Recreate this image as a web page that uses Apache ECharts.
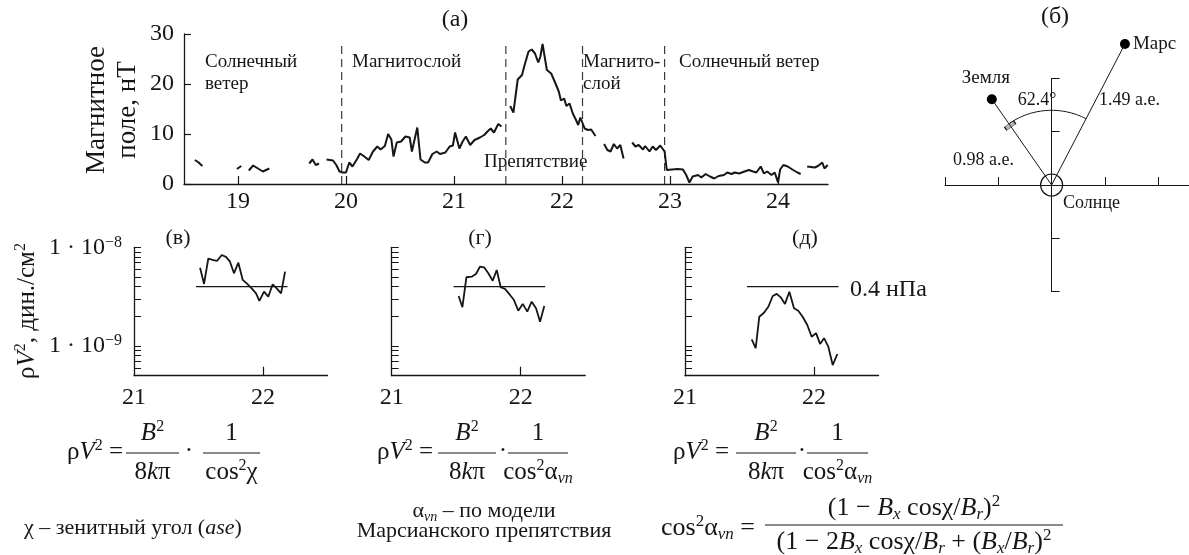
<!DOCTYPE html>
<html>
<head>
<meta charset="utf-8">
<script src="https://cdn.jsdelivr.net/npm/echarts@6/dist/echarts.min.js"></script>
<style>
  html, body { margin: 0; padding: 0; background: #fff; }
  #chart { width: 1189px; height: 555px; }
</style>
</head>
<body>
<div id="chart"></div>
<script>
const SERIF = "'Liberation Serif', 'DejaVu Serif', serif";
const INK = '#161616';

// ---- (а) magnetic field magnitude, nT, against day; telemetry gaps split the record ----
const fieldSeg1 = [[18.60, 4.8], [18.63, 4.4], [18.67, 3.6]];
const fieldSeg2 = [[18.99, 3.0], [19.03, 3.6]];
const fieldSeg3 = [[19.10, 2.7], [19.14, 3.7], [19.23, 2.5], [19.29, 3.1]];
const fieldSeg4 = [[19.66, 4.1], [19.69, 4.9], [19.72, 3.8], [19.75, 4.1]];
const fieldSeg5 = [
  [19.82, 4.9], [19.88, 4.7], [19.91, 3.8], [19.94, 2.5], [19.97, 2.3], [20.0, 2.3],
  [20.03, 4.3], [20.06, 3.5], [20.10, 4.9], [20.13, 6.1], [20.17, 5.5], [20.21, 4.8],
  [20.25, 6.5], [20.29, 7.5], [20.32, 6.9], [20.36, 7.6], [20.39, 10.0], [20.42, 8.9],
  [20.44, 5.5], [20.47, 8.3], [20.51, 8.5], [20.55, 9.5], [20.59, 9.3], [20.61, 6.5],
  [20.66, 11.3], [20.69, 4.9], [20.73, 4.3], [20.76, 4.3], [20.80, 6.0], [20.84, 6.5],
  [20.87, 6.0], [20.92, 6.3], [20.96, 7.5], [20.99, 7.7], [21.01, 10.3], [21.05, 7.1],
  [21.08, 8.5], [21.11, 9.5], [21.15, 7.8], [21.19, 8.8], [21.24, 9.3], [21.28, 9.8],
  [21.31, 10.5], [21.34, 11.1], [21.37, 10.3], [21.41, 12.0], [21.44, 11.5]
];
const fieldSeg6 = [
  [21.52, 15.6], [21.55, 14.3], [21.59, 20.9], [21.63, 21.8], [21.65, 23.5], [21.69, 26.5],
  [21.72, 26.9], [21.75, 26.1], [21.78, 24.3], [21.80, 25.5], [21.82, 28.0], [21.86, 22.8],
  [21.90, 22.1], [21.94, 20.1], [21.97, 18.5], [21.99, 16.7], [22.02, 17.1], [22.04, 15.6],
  [22.07, 16.1], [22.10, 14.1], [22.13, 12.8], [22.15, 11.8], [22.17, 13.3], [22.21, 11.1],
  [22.24, 10.8], [22.27, 10.9], [22.31, 9.6]
];
const fieldSeg7 = [[22.39, 8.0], [22.42, 6.8], [22.45, 6.5], [22.48, 8.0], [22.51, 7.1], [22.54, 7.8], [22.57, 5.1]];
const fieldSeg8 = [
  [22.65, 8.3], [22.68, 7.5], [22.71, 7.8], [22.75, 6.9], [22.77, 7.6], [22.81, 6.5],
  [22.84, 7.5], [22.87, 6.8], [22.91, 7.7], [22.95, 6.5], [22.97, 2.8], [23.02, 2.9],
  [23.07, 3.0], [23.12, 2.9], [23.15, 1.8], [23.18, 0.3], [23.21, 1.5], [23.26, 1.8],
  [23.29, 1.3], [23.33, 2.0], [23.37, 1.5], [23.41, 1.1], [23.45, 1.6], [23.50, 1.8],
  [23.53, 2.3], [23.57, 2.0], [23.60, 2.3], [23.64, 2.1], [23.69, 2.5], [23.73, 2.8],
  [23.77, 2.5], [23.80, 2.3], [23.84, 3.5], [23.87, 2.1], [23.90, 2.5], [23.94, 1.8],
  [23.97, 2.3], [24.0, 0.3], [24.02, 2.9], [24.05, 3.8], [24.09, 3.5], [24.14, 2.8],
  [24.18, 2.3], [24.21, 2.0]
];
const fieldSeg9 = [[24.27, 3.5], [24.34, 3.3], [24.37, 3.6], [24.41, 4.3], [24.43, 3.1], [24.46, 3.8]];
const fieldSegments = [fieldSeg1, fieldSeg2, fieldSeg3, fieldSeg4, fieldSeg5, fieldSeg6, fieldSeg7, fieldSeg8, fieldSeg9];

// region boundaries (bow shock / obstacle crossings), days
const boundaryDays = [19.96, 21.48, 22.19, 22.95];
const boundaryTop = 28.2;
const dayTicks = [19, 20, 21, 22, 23, 24];

// ---- (в), (г), (д) dynamic pressure estimates, dyn/cm^2 ----
const pressureZenith = [
  [21.512, 6.2e-9], [21.543, 4.25e-9], [21.576, 7.7e-9], [21.614, 7.4e-9], [21.645, 7.3e-9],
  [21.68, 8.35e-9], [21.713, 8.0e-9], [21.744, 7.15e-9], [21.775, 5.45e-9], [21.809, 6.98e-9],
  [21.843, 4.67e-9], [21.874, 4.31e-9], [21.912, 3.84e-9], [21.946, 3.42e-9], [21.972, 2.86e-9],
  [22.008, 3.55e-9], [22.041, 3.16e-9], [22.075, 4.22e-9], [22.106, 3.84e-9], [22.14, 3.42e-9],
  [22.171, 5.66e-9]
];
const pressureModel = [
  [21.519, 3.21e-9], [21.548, 2.47e-9], [21.579, 4.97e-9], [21.62, 5.04e-9], [21.653, 5.37e-9],
  [21.684, 6.36e-9], [21.716, 6.27e-9], [21.749, 5.45e-9], [21.783, 4.59e-9], [21.814, 5.89e-9],
  [21.845, 3.94e-9], [21.878, 3.79e-9], [21.917, 3.29e-9], [21.948, 2.92e-9], [21.981, 2.28e-9],
  [22.016, 2.67e-9], [22.051, 2.23e-9], [22.085, 2.81e-9], [22.119, 2.41e-9], [22.15, 1.76e-9],
  [22.183, 2.54e-9]
];
const pressureModelB = [
  [21.517, 1.17e-9], [21.548, 9.5e-10], [21.576, 1.98e-9], [21.612, 2.17e-9], [21.646, 2.5e-9],
  [21.68, 3.21e-9], [21.711, 3.37e-9], [21.742, 3.11e-9], [21.775, 2.67e-9], [21.809, 3.55e-9],
  [21.845, 2.41e-9], [21.878, 2.28e-9], [21.912, 1.98e-9], [21.948, 1.63e-9], [21.982, 1.24e-9],
  [22.016, 1.35e-9], [22.047, 1.05e-9], [22.078, 1.2e-9], [22.111, 9.84e-10], [22.145, 6.41e-10],
  [22.181, 8.3e-10]
];
const refPressure = 4e-9;          // 0.4 nPa
const refPressureLabel = '0.4 нПа';
const refSpan = [21.48, 22.19];
const pressureTicks = [5e-10, 6e-10, 7e-10, 8e-10, 9e-10, 1e-9, 2e-9, 3e-9, 4e-9, 5e-9, 6e-9, 7e-9, 8e-9, 9e-9, 1e-8];
const pressureLabels = [1e-9, 1e-8];

// ---- (б) planet geometry, a.u. and degrees ----
const marsDist = 1.49;
const earthDist = 0.98;
const earthMarsAngle = 62.4;
const marsAngle = 62.5;             // heliocentric direction of Mars in the sketch
const orbitTicks = [-1, -0.5, 0.5, 1];

// ---------------------------------------------------------------
const earthAngle = marsAngle + earthMarsAngle;
const rad = a => a * Math.PI / 180;
const polar = (r, a) => [r * Math.cos(rad(a)), r * Math.sin(rad(a))];
const earthPos = polar(earthDist, earthAngle);
const marsPos = polar(marsDist, marsAngle);
const arcRadius = 0.7;
const arcPts = [];
for (let a = marsAngle; a <= earthAngle + 1e-9; a += 1) arcPts.push(polar(arcRadius, a));

const axisLine = { lineStyle: { color: INK, width: 1.3 } };
const tickFont = { fontSize: 24, fontFamily: SERIF, color: INK };

function lineSeries(idx, data, width, extra) {
  return Object.assign({
    type: 'line', xAxisIndex: idx, yAxisIndex: idx, data: data,
    symbol: 'none', showSymbol: false, silent: true, animation: false,
    lineStyle: { color: INK, width: width }
  }, extra || {});
}

const series = [];
boundaryDays.forEach(d => series.push(lineSeries(0, [[d, 0], [d, boundaryTop]], 1.2,
  { lineStyle: { color: '#3a3a3a', width: 1.2, type: [8, 5] } })));
fieldSegments.forEach(seg => series.push(lineSeries(0, seg, 2)));

// orbit sketch
const orbitClip = { clip: false };
series.push(lineSeries(1, [[0, 0], earthPos], 1, orbitClip));
series.push(lineSeries(1, [[0, 0], marsPos], 1, orbitClip));
series.push(lineSeries(1, arcPts, 1, orbitClip));
series.push({
  type: 'scatter', xAxisIndex: 1, yAxisIndex: 1, silent: true, animation: false, clip: false,
  symbol: 'rect', symbolSize: [11, 4], symbolRotate: earthAngle - 90,
  data: [polar(0.68, earthAngle)],
  itemStyle: { color: '#b8b8b8', borderColor: INK, borderWidth: 0.8, opacity: 1 }
});
series.push({
  type: 'scatter', xAxisIndex: 1, yAxisIndex: 1, silent: true, animation: false, clip: false,
  symbol: 'circle', symbolSize: 22, data: [[0, 0]],
  itemStyle: { color: 'rgba(0,0,0,0)', borderColor: INK, borderWidth: 1.2, opacity: 1 }
});
const planetLabel = { show: true, fontSize: 19, fontFamily: SERIF, color: INK };
series.push({
  type: 'scatter', xAxisIndex: 1, yAxisIndex: 1, silent: true, animation: false, clip: false,
  symbol: 'circle', symbolSize: 10, itemStyle: { color: '#000', opacity: 1 },
  data: [
    { value: earthPos, label: Object.assign({ formatter: 'Земля', position: 'top', offset: [-6, -2] }, planetLabel) },
    { value: marsPos, label: Object.assign({ formatter: 'Марс', position: 'right', distance: 3 }, planetLabel) }
  ]
});

// pressure panels
[pressureZenith, pressureModel, pressureModelB].forEach((data, k) => {
  const idx = k + 2;
  series.push(lineSeries(idx, [[refSpan[0], refPressure], [refSpan[1], refPressure]], 1.3));
  series.push(lineSeries(idx, data, 1.8));
});

const grids = [
  { left: 184, top: 34, width: 644, height: 150 },
  { left: 945, top: 78.3, width: 244, height: 213.4 },
  { left: 134, top: 247.3, width: 193.5, height: 128.4 },
  { left: 391.7, top: 247.3, width: 193.5, height: 128.4 },
  { left: 685, top: 247.3, width: 193.5, height: 128.4 }
];

const xAxes = [
  {
    gridIndex: 0, type: 'value', min: 18.5, max: 24.463,
    axisLine: axisLine, splitLine: { show: false },
    axisTick: { inside: true, length: 8, customValues: dayTicks, lineStyle: { color: INK, width: 1.2 } },
    axisLabel: Object.assign({ customValues: dayTicks, margin: 6 }, tickFont)
  },
  {
    gridIndex: 1, type: 'value', min: -1, max: 1.289,
    axisLine: { onZero: true, lineStyle: { color: INK, width: 1 } }, splitLine: { show: false },
    axisTick: { inside: true, length: 8, customValues: orbitTicks, lineStyle: { color: INK, width: 1 } },
    axisLabel: { show: false }
  }
];
const yAxes = [
  {
    gridIndex: 0, type: 'value', min: 0, max: 30, interval: 10,
    axisLine: { show: true, lineStyle: { color: INK, width: 1.3 } }, splitLine: { show: false },
    axisTick: { show: true, inside: true, length: 7, lineStyle: { color: INK, width: 1.2 } },
    axisLabel: Object.assign({ margin: 10 }, tickFont)
  },
  {
    gridIndex: 1, type: 'value', min: -1, max: 1,
    axisLine: { show: true, onZero: true, lineStyle: { color: INK, width: 1 } }, splitLine: { show: false },
    axisTick: { show: true, inside: true, length: 8, customValues: orbitTicks, lineStyle: { color: INK, width: 1 } },
    axisLabel: { show: false }
  }
];
for (let k = 0; k < 3; k++) {
  const idx = k + 2;
  xAxes.push({
    gridIndex: idx, type: 'value', min: 21, max: 22.5,
    axisLine: axisLine, splitLine: { show: false },
    axisTick: { inside: true, length: 9, customValues: [22], lineStyle: { color: INK, width: 1.2 } },
    axisLabel: Object.assign({ customValues: [21, 22], margin: 10 }, tickFont)
  });
  yAxes.push({
    gridIndex: idx, type: 'log', logBase: 10, min: 5e-10, max: 1e-8,
    axisLine: { show: true, lineStyle: { color: INK, width: 1.3 } }, splitLine: { show: false },
    axisTick: { show: true, inside: true, length: 7, customValues: pressureTicks, lineStyle: { color: INK, width: 1 } },
    axisLabel: {
      show: k === 0, customValues: pressureLabels, margin: 12,
      formatter: v => '{n|1 · 10}{s|−' + Math.abs(Math.round(Math.log10(v))) + '}',
      rich: {
        n: { fontSize: 24, fontFamily: SERIF, color: INK, lineHeight: 26 },
        s: { fontSize: 16, fontFamily: SERIF, color: INK, lineHeight: 16, verticalAlign: 'top' }
      }
    }
  });
}

// ---- text: annotations and formulas ----
function rich(size) {
  const sup = Math.round(size * 0.64);
  return {
    r: { fontSize: size, fontFamily: SERIF, fill: INK, lineHeight: size + 4 },
    i: { fontSize: size, fontFamily: SERIF, fill: INK, fontStyle: 'italic', lineHeight: size + 4 },
    sup: { fontSize: sup, fontFamily: SERIF, fill: INK, lineHeight: sup, verticalAlign: 'top' },
    sub: { fontSize: sup, fontFamily: SERIF, fill: INK, fontStyle: 'italic', lineHeight: sup, verticalAlign: 'bottom' }
  };
}
function txt(x, y, text, size, align, extra) {
  return Object.assign({
    type: 'text', x: x, y: y, silent: true,
    style: {
      text: text, fill: INK, fontFamily: SERIF, fontSize: size,
      align: align || 'left', verticalAlign: 'middle', rich: rich(size)
    }
  }, extra || {});
}
function bar(x1, x2, y) {
  return { type: 'line', silent: true, shape: { x1: x1, y1: y, x2: x2, y2: y }, style: { stroke: INK, lineWidth: 1 } };
}

const F = 25;
const lhs = '{r|ρ}{i|V}{sup|2}{r| =}';
const bSq = '{i|B}{sup|2}';
const eightKPi = '{r|8}{i|k}{r|π}';
const cosAlpha = '{r|cos}{sup|2}{r|α}{sub|vn}';

// pV^2 = B^2/(8k pi) * 1/cos^2(...) laid out from the '=' end, the two fraction bars and the dot
function pressureFormula(xEq, f1, dotX, f2, den2) {
  const yN = 433, yB = 453, yD = 472;
  return [
    txt(xEq, 452, lhs, F, 'right'),
    txt((f1[0] + f1[1]) / 2, yN, bSq, F, 'center'),
    bar(f1[0], f1[1], yB),
    txt((f1[0] + f1[1]) / 2, yD, eightKPi, F, 'center'),
    txt(dotX, 451, '{r|·}', F, 'center'),
    txt((f2[0] + f2[1]) / 2, yN, '{r|1}', F, 'center'),
    bar(f2[0], f2[1], yB),
    txt((f2[0] + f2[1]) / 2, yD, den2, F, 'center')
  ];
}

const T = 22;
const G = 26;
const graphics = [
  // panel (а)
  txt(455, 20, '(а)', 24, 'center'),
  { type: 'text', x: 112, y: 110, rotation: Math.PI / 2, silent: true,
    style: { text: 'Магнитное\nполе, нТ', fill: INK, fontFamily: SERIF, fontSize: 27, lineHeight: 31, align: 'center', verticalAlign: 'middle' } },
  txt(205, 62, 'Солнечный', 19),
  txt(205, 84, 'ветер', 19),
  txt(352, 62, 'Магнитослой', 19),
  txt(583, 62, 'Магнито-', 19),
  txt(583, 84, 'слой', 19),
  txt(679, 62, 'Солнечный ветер', 19),
  txt(484, 162, 'Препятствие', 19),

  // panel (б)
  txt(1055, 17, '(б)', 24, 'center'),
  txt(1037, 100, earthMarsAngle.toFixed(1) + '°', 18, 'center'),
  txt(1099, 100, marsDist.toFixed(2) + ' а.е.', 18),
  txt(953, 160, earthDist.toFixed(2) + ' а.е.', 18),
  txt(1063, 203, 'Солнце', 18),

  // pressure panels
  txt(178, 238, '(в)', 22, 'center'),
  txt(480, 238, '(г)', 22, 'center'),
  txt(805, 238, '(д)', 22, 'center'),
  txt(850, 290, refPressureLabel, 24),
  txt(27, 311, '{r|ρ}{i|V}{sup|2}{r|, дин./см}{sup|2}', 25, 'center', { rotation: Math.PI / 2 }),

  // formulas
  ...pressureFormula(123, [126, 179], 189, [203, 260], '{r|cos}{sup|2}{r|χ}'),
  ...pressureFormula(433, [438, 496], 503, [508, 568], cosAlpha),
  ...pressureFormula(729, [736, 796], 802, [807, 868], cosAlpha),

  txt(24, 528, '{r|χ – зенитный угол (}{i|ase}{r|)}', T),
  txt(484, 511, '{r|α}{sub|vn}{r| – по модели}', T, 'center'),
  txt(484, 531, 'Марсианского препятствия', T, 'center'),
  txt(755, 528, cosAlpha + '{r| =}', G, 'right'),
  txt(914, 508, '{r|(1 − }{i|B}{sub|x}{r| cosχ/}{i|B}{sub|r}{r|)}{sup|2}', G, 'center'),
  bar(765, 1063, 525),
  txt(914, 542, '{r|(1 − 2}{i|B}{sub|x}{r| cosχ/}{i|B}{sub|r}{r| + (}{i|B}{sub|x}{r|/}{i|B}{sub|r}{r|)}{sup|2}', G, 'center')
];

const chart = echarts.init(document.getElementById('chart'), null, { renderer: 'canvas' });
chart.setOption({
  backgroundColor: '#ffffff',
  animation: false,
  grid: grids,
  xAxis: xAxes,
  yAxis: yAxes,
  series: series,
  graphic: graphics
});
</script>
</body>
</html>
